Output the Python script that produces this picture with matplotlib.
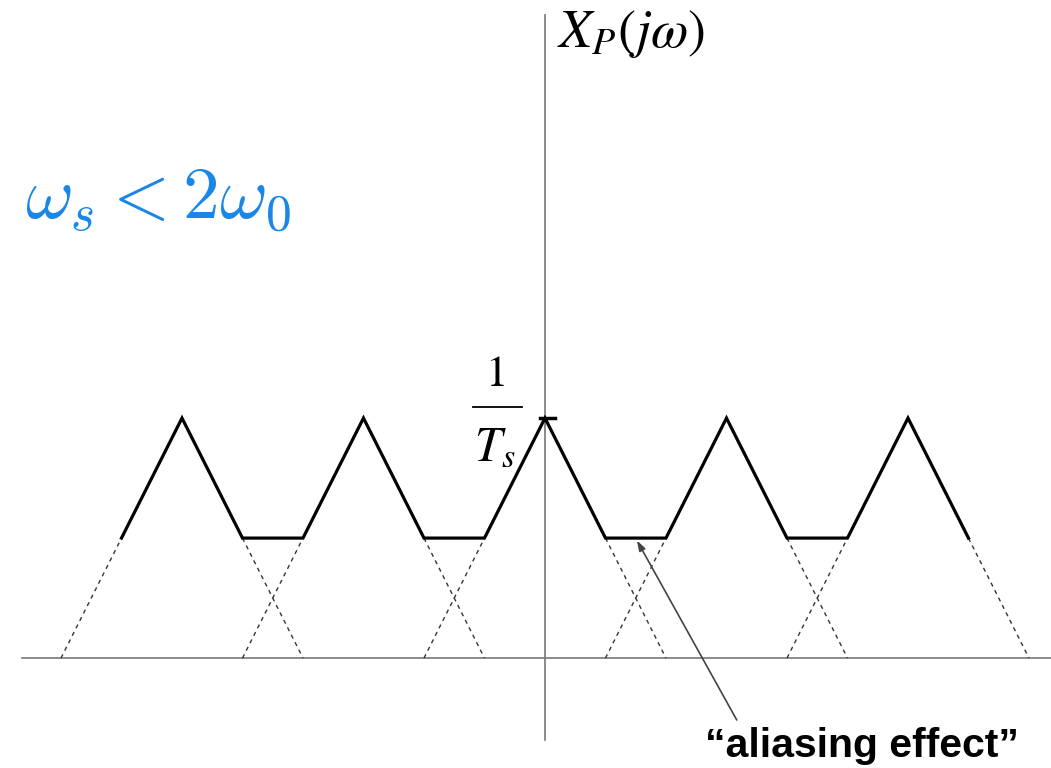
import matplotlib.pyplot as plt

# Espectro muestreado con aliasing (ws = 3, w0 = 2, altura 1/Ts = 1)
omega_sol = [-7, -6, -5, -4, -3, -2, -1, 0, 1, 2, 3, 4, 5, 6, 7]
mag_sol = [0.5, 1, 0.5, 0.5, 1, 0.5, 0.5, 1, 0.5, 0.5, 1, 0.5, 0.5, 1, 0.5]

# tramos punteados (partes de cada triangulo tapadas por la suma)
dash_x0 = [-8, -5, -5, -2, -2, 1, 1, 4, 4, 7]
dash_y0 = [0, 0.5, 0, 0.5, 0, 0.5, 0, 0.5, 0, 0.5]
dash_x1 = [-7, -4, -4, -1, -1, 2, 2, 5, 5, 8]
dash_y1 = [0.5, 0, 0.5, 0, 0.5, 0, 0.5, 0, 0.5, 0]

fig = plt.figure(figsize=(10.51, 7.68), dpi=100)
ax = fig.add_axes([0, 0, 1, 1])
ax.set_xlim(-9.008, 8.364)
ax.set_ylim(-0.458, 2.742)
ax.axis('off')

# ejes
ax.plot([-8.645, 8.364], [0, 0], color='#777777', lw=1.2)
ax.plot([0, 0], [-0.342, 2.679], color='#777777', lw=1.2)

# triangulos punteados
for x0, y0, x1, y1 in zip(dash_x0, dash_y0, dash_x1, dash_y1):
    ax.plot([x0, x1], [y0, y1], color='#333333', lw=1.0, ls=(0, (3, 3)))

# espectro
ax.plot(omega_sol, mag_sol, color='black', lw=2.3, solid_joinstyle='miter')
ax.plot([-0.08, 0.17], [1, 1], color='black', lw=2.5)

# textos
plt.rcParams['mathtext.fontset'] = 'stix'
ax.text(0.2, 2.6, r'$X_P(j\omega)$', fontsize=39, va='center', ha='left')
ax.text(-0.8, 1.175, '1', family='STIXGeneral', fontsize=32, va='center', ha='center')
ax.plot([-1.19, -0.38], [1.045, 1.045], color='black', lw=1.3)
ax.text(-0.83, 0.88, r'$T_s$', fontsize=35, va='center', ha='center')

ax.text(-8.6, 1.917, r'$\omega_s < 2\omega_0$', fontsize=53, color='#1a86e8',
        va='center', ha='left', math_fontfamily='cm')

ax.annotate('', xy=(1.52, 0.49), xytext=(3.17, -0.258),
            arrowprops=dict(arrowstyle='-|>,head_length=0.6,head_width=0.2',
                            color='#444444', lw=1.2, shrinkA=0, shrinkB=0))
ax.text(5.24, -0.365, '\u201caliasing effect\u201d', family='Liberation Sans',
        fontweight='bold', fontsize=29.5, va='center', ha='center')

fig.savefig('out.png', dpi=100)
